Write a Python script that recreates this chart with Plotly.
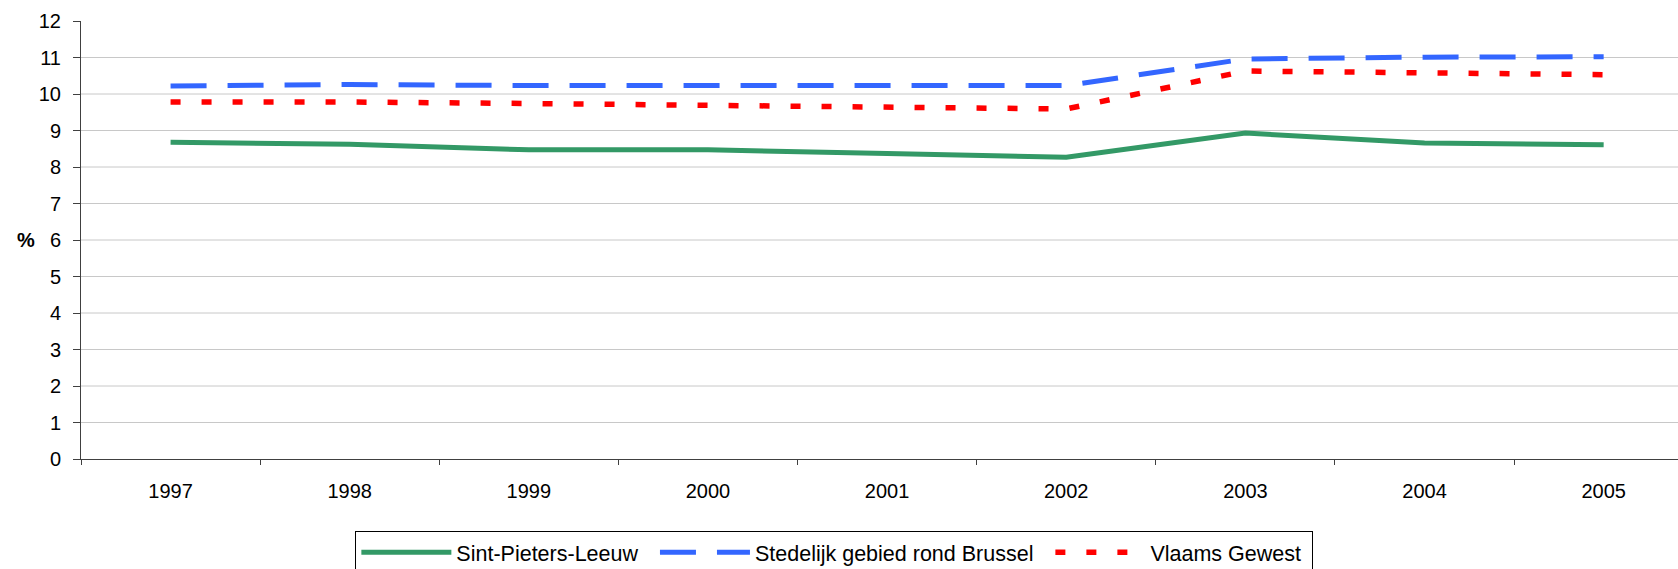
import plotly.graph_objs as go

years = ['1997', '1998', '1999', '2000', '2001', '2002', '2003', '2004', '2005']
sint_pieters_leeuw = [8.68, 8.62, 8.47, 8.47, 8.37, 8.27, 8.93, 8.66, 8.61]
stedelijk_gebied = [10.22, 10.26, 10.23, 10.23, 10.23, 10.23, 10.96, 11.01, 11.02]
vlaams_gewest = [9.78, 9.78, 9.74, 9.68, 9.62, 9.59, 10.63, 10.57, 10.53]
y_ticks = list(range(0, 13))

FONT = 'Arial, Liberation Sans, sans-serif'
NBSP = '\u00a0'  # pads legend entries apart, like the original

fig = go.Figure()

fig.add_trace(
    go.Scatter(
        x=years,
        y=sint_pieters_leeuw,
        mode='lines',
        line=dict(color='#339966', width=5),
        name='Sint-Pieters-Leeuw' + NBSP * 2,
    )
)

fig.add_trace(
    go.Scatter(
        x=years,
        y=stedelijk_gebied,
        mode='lines',
        line=dict(color='#3366FF', width=5, dash='36px,21px'),
        name='Stedelijk gebied rond Brussel' + NBSP * 2,
    )
)

fig.add_trace(
    go.Scatter(
        x=years,
        y=vlaams_gewest,
        mode='lines',
        line=dict(color='#FF0000', width=5.5, dash='10px,21px'),
        name='Vlaams Gewest' + NBSP,
    )
)

# gridlines at every unit except the top of the plot
for v in y_ticks[1:-1]:
    fig.add_hline(y=v, line_color='#c8c8c8', line_width=1, layer='below')

fig.add_annotation(
    x=-0.0347, xref='paper', y=6, yref='y',
    xanchor='center',
    text='<b>%</b>', showarrow=False,
    font=dict(family=FONT, size=20, color='black'),
)

fig.update_layout(
    width=1678,
    height=569,
    plot_bgcolor='white',
    paper_bgcolor='white',
    margin=dict(l=81, r=0, t=21, b=110, autoexpand=False),
    font=dict(family=FONT, size=20, color='black'),
    showlegend=True,
    legend=dict(
        orientation='h',
        x=0.1718,
        y=-0.1637,
        xanchor='left',
        yanchor='top',
        bordercolor='black',
        borderwidth=1,
        bgcolor='white',
        font=dict(family=FONT, size=21.5, color='black'),
        itemwidth=90,
    ),
)

fig.update_xaxes(
    type='category',
    range=[-0.5, 8.415],
    showgrid=False,
    showline=True,
    linecolor='#404040',
    linewidth=1,
    ticks='outside',
    tickson='boundaries',
    ticklen=5,
    tickcolor='#404040',
    ticklabelstandoff=14,
)

fig.update_yaxes(
    range=[0, 12],
    tickvals=y_ticks,
    showgrid=False,
    zeroline=False,
    showline=True,
    linecolor='#404040',
    linewidth=1,
    ticks='outside',
    ticklen=7,
    tickcolor='#404040',
    ticklabelstandoff=8,
)

# page has a default body margin; drop it so the figure sits at the corner
fig.write_html(
    'out.html',
    config={'displayModeBar': False},
    post_script="document.body.style.margin='0';",
)
